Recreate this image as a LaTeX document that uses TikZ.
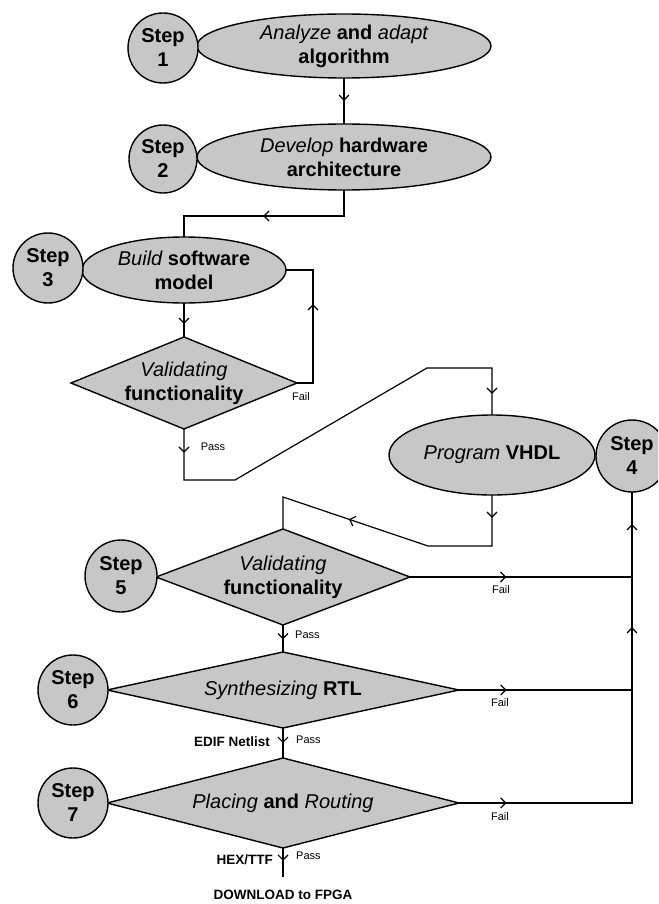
\documentclass[tikz,border=0pt]{standalone}
\usepackage{fontspec}
\setmainfont{Liberation Sans}
\usetikzlibrary{shapes.geometric}
\definecolor{shade}{gray}{0.78}
\newcommand\itw[1]{{\mdseries\itshape #1}}
\newcommand\mainsize{\fontsize{20}{24}\selectfont\bfseries}
\newcommand\tagsize{\fontsize{11}{13}\selectfont}
\newcommand\notesize{\fontsize{13.5}{16}\selectfont\bfseries}

\begin{document}
\begin{tikzpicture}[x=1pt,y=-1pt,
  shape base/.style={draw, line width=1.4pt, fill=shade, inner sep=0pt,
    outer sep=0pt, align=center, font=\mainsize},
  stepc/.style={shape base, circle, minimum size=#1},
  oval/.style={shape base, ellipse},
  dmd/.style={shape base, diamond},
  conn/.style={line width=1.2pt},
  tag/.style={font=\tagsize, inner sep=0pt},
  note/.style={font=\notesize, inner sep=0pt},
  mid/.style={pos=#1, sloped, allow upside down},
  chev/.pic={\draw[line width=1.2pt] (-5pt,5pt) -- (0pt,0pt) -- (-5pt,-5pt);}
]
\clip (0,0) rectangle (658,904);

% process ovals
\node[oval, minimum width=294pt, minimum height=64pt] (e1) at (344,46)
  {\itw{Analyze} and \itw{adapt}\\algorithm};
\node[oval, minimum width=294pt, minimum height=66pt] (e2) at (344,157)
  {\itw{Develop} hardware\\architecture};
\node[oval, minimum width=204pt, minimum height=66pt] (e3) at (184,270)
  {\itw{Build} software\\model};
\node[oval, minimum width=206pt, minimum height=80pt] (e4) at (492,455)
  {\itw{Program} VHDL};

% decisions
\node[dmd, aspect=2.46, minimum width=226pt, minimum height=92pt] (d1) at (184,383)
  {\itw{Validating}\\functionality};
\node[dmd, aspect=2.65, minimum width=254pt, minimum height=96pt] (d2) at (283,577)
  {\itw{Validating}\\functionality};
\node[dmd, aspect=4.63, minimum width=352pt, minimum height=76pt] (d3) at (283,690)
  {\itw{Synthesizing} RTL};
\node[dmd, aspect=3.9, minimum width=352pt, minimum height=90pt] (d4) at (283,803)
  {\itw{Placing} and \itw{Routing}};

% step markers
\node[stepc=70pt] (s1) at (163,48) {Step\\1};
\node[stepc=68pt] (s2) at (163,159) {Step\\2};
\node[stepc=70pt] (s3) at (48,268) {Step\\3};
\node[stepc=72pt] (s4) at (632,456) {Step\\4};
\node[stepc=72pt] (s5) at (121,576) {Step\\5};
\node[stepc=70pt] (s6) at (73,690) {Step\\6};
\node[stepc=70pt] (s7) at (73,803) {Step\\7};

% bends of the connectors
\coordinate (a1) at (344,216);
\coordinate (a2) at (184,216);
\coordinate (b1) at (313,383);
\coordinate (b2) at (313,270);
\coordinate (c1) at (184,480);
\coordinate (c2) at (235,480);
\coordinate (c3) at (427,368);
\coordinate (c4) at (492,368);
\coordinate (g1) at (492,546);
\coordinate (g2) at (428,546);
\coordinate (g3) at (283,497);
\coordinate (r2) at (632,577);
\coordinate (r3) at (632,690);
\coordinate (r4) at (632,803);
\coordinate (z)  at (283,877);

% connectors
\draw[conn] (e1.south) -- pic[mid=.48]{chev} (e2.north);
\draw[conn] (e2.south) -- (a1) -- pic[mid=.5]{chev} (a2) -- (e3.north);
\draw[conn] (e3.south) -- pic[mid=.59]{chev} (d1.north);
\draw[conn] (d1.east) -- (b1) -- pic[mid=.69]{chev} (b2) -- (e3.east);
\draw[conn] (d1.south) -- pic[mid=.45]{chev} (c1) -- (c2) -- (c3) -- (c4)
  -- pic[mid=.53]{chev} (e4.north);
\draw[conn] (e4.south) -- pic[mid=.43]{chev} (g1) -- (g2)
  -- pic[mid=.54]{chev} (g3) -- (d2.north);
\draw[conn] (d2.east) -- pic[mid=.43]{chev} (r2);
\draw[conn] (d3.east) -- pic[mid=.27]{chev} (r3);
\draw[conn] (d4.east) -- pic[mid=.27]{chev} (r4)
  -- pic[mid=.563]{chev} pic[mid=.894]{chev} (s4.south);
\draw[conn] (d2.south) -- pic[mid=.5]{chev} (d3.north);
\draw[conn] (d3.south) -- pic[mid=.47]{chev} (d4.north);
\draw[conn] (d4.south) -- pic[mid=.41]{chev} (z);

% labels
\node[tag] (f1) at (301,397) {Fail};
\node[tag] (p1) at (213,447) {Pass};
\node[tag] (f2) at (501,590) {Fail};
\node[tag, anchor=west] (p2) at (295,635) {Pass};
\node[tag] (f3) at (500,703) {Fail};
\node[note, anchor=east] (n1) at (270,742) {EDIF Netlist};
\node[tag, anchor=west] (p3) at (296,740) {Pass};
\node[tag] (f4) at (500,817) {Fail};
\node[note, anchor=east] (n2) at (273,860) {HEX/TTF};
\node[tag, anchor=west] (p4) at (296,856) {Pass};
\node[note] (dl) at (283,895) {DOWNLOAD to FPGA};
\end{tikzpicture}
\end{document}
